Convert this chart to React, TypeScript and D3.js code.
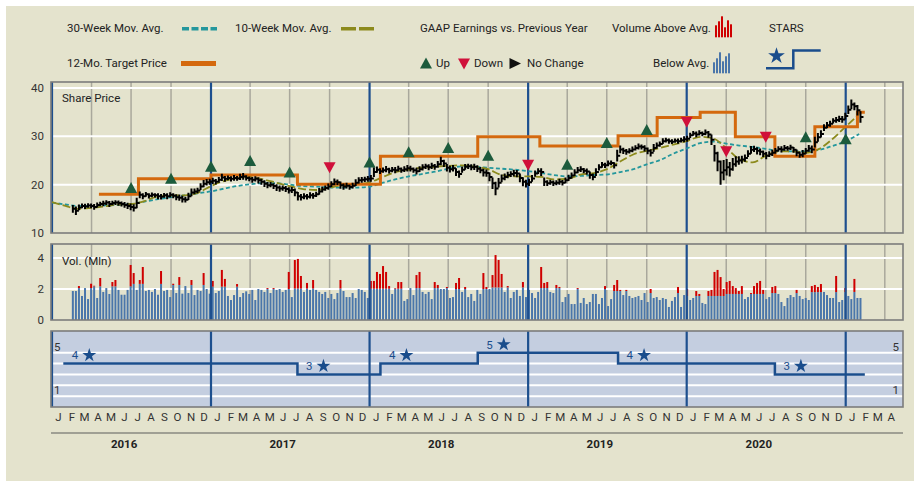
import React from "react";
import * as d3 from "d3";

// ---------- data ----------

// weekly price bars, first week ending 2016-02-18
const firstWeek = new Date(2016, 1, 18);

const close2016 = [15.0, 14.6, 15.3, 15.6, 15.5, 15.7, 15.6, 15.4, 15.8, 16.0, 16.1, 16.3, 16.0, 16.2, 16.3, 16.2, 16.0, 15.8, 15.6, 15.4, 15.2, 16.2, 17.9, 17.6, 18.0, 17.7, 17.9, 17.8, 17.6, 17.5, 17.8, 17.6, 17.9, 17.7, 17.4, 17.3, 17.0, 16.9, 17.6, 18.4, 18.6, 18.8, 19.6, 20.2, 20.5, 20.6];
const close2017 = [20.8, 20.6, 21.0, 21.5, 21.2, 21.4, 21.2, 21.4, 21.3, 21.6, 21.7, 21.4, 21.2, 21.0, 21.2, 20.9, 20.6, 20.2, 19.9, 20.0, 19.7, 19.4, 19.2, 19.3, 19.1, 18.8, 18.9, 18.4, 17.6, 17.4, 17.6, 17.5, 17.8, 17.7, 18.0, 18.6, 19.0, 19.3, 19.6, 20.1, 20.6, 20.5, 19.9, 19.6, 19.8, 19.5, 19.8, 20.4, 20.9, 21.0, 21.1, 21.2];
const close2018 = [21.3, 22.6, 23.1, 22.8, 23.0, 23.2, 22.9, 23.1, 23.0, 23.3, 23.0, 23.2, 23.4, 23.3, 23.0, 22.8, 23.2, 23.6, 23.8, 23.6, 23.9, 23.7, 24.2, 24.9, 24.4, 23.5, 23.2, 23.4, 22.6, 22.2, 23.1, 23.7, 23.8, 23.6, 23.7, 23.3, 23.0, 22.5, 22.4, 21.6, 20.3, 19.2, 20.4, 21.3, 21.6, 22.0, 22.2, 22.4, 22.3, 21.4, 20.6, 20.2];
const close2019 = [20.5, 21.3, 22.3, 22.8, 22.6, 20.6, 20.3, 20.5, 20.3, 20.4, 20.6, 20.4, 20.9, 21.4, 21.9, 22.5, 23.0, 23.2, 22.9, 22.7, 22.0, 21.6, 22.6, 23.6, 24.1, 24.0, 24.4, 24.5, 24.0, 26.0, 27.3, 27.0, 26.8, 27.0, 27.3, 27.6, 27.9, 27.8, 27.5, 27.0, 26.6, 27.6, 28.1, 28.4, 29.0, 29.2, 29.0, 28.9, 29.1, 29.0, 29.2, 29.4];
const close2020 = [29.5, 30.2, 30.6, 30.4, 30.7, 30.5, 30.8, 30.4, 29.3, 26.5, 24.8, 22.5, 23.0, 23.6, 23.2, 24.2, 24.8, 25.0, 25.2, 25.5, 26.4, 27.2, 27.4, 27.0, 26.8, 26.4, 26.0, 26.3, 26.6, 27.0, 27.4, 27.3, 27.6, 27.5, 27.7, 27.2, 26.6, 26.2, 26.4, 27.0, 27.5, 27.3, 28.8, 29.8, 30.5, 31.8, 32.3, 32.6, 33.2, 33.4, 33.6, 33.5];
const close2021 = [34.2, 35.5, 36.6, 36.2, 35.4, 34.0];

// weekly high-low span
const range2016 = [1.6, 1.8, 1.2, 1.0, 1.1, 0.9, 1.0, 1.2, 1.0, 0.9, 1.1, 1.0, 1.2, 0.9, 1.0, 1.1, 1.0, 1.2, 1.3, 1.4, 1.5, 2.2, 1.4, 1.2, 1.0, 1.1, 1.0, 0.9, 1.2, 1.1, 1.0, 1.2, 1.1, 1.0, 1.2, 1.3, 1.4, 1.2, 1.5, 1.6, 1.2, 1.1, 1.4, 1.5, 1.3, 1.2];
const range2017 = [1.3, 1.1, 1.2, 1.5, 1.2, 1.0, 1.1, 1.2, 1.0, 1.3, 1.4, 1.1, 1.0, 1.2, 1.1, 1.3, 1.2, 1.4, 1.3, 1.1, 1.2, 1.4, 1.3, 1.1, 1.2, 1.3, 1.2, 1.6, 1.8, 1.3, 1.2, 1.1, 1.3, 1.2, 1.1, 1.4, 1.2, 1.1, 1.3, 1.2, 1.4, 1.1, 1.5, 1.3, 1.2, 1.1, 1.2, 1.4, 1.3, 1.2, 1.1, 1.2];
const range2018 = [1.4, 2.0, 1.3, 1.2, 1.1, 1.3, 1.2, 1.1, 1.3, 1.2, 1.1, 1.2, 1.3, 1.2, 1.1, 1.4, 1.2, 1.3, 1.1, 1.2, 1.3, 1.2, 1.4, 1.8, 1.5, 1.6, 1.4, 1.3, 1.6, 1.5, 1.3, 1.2, 1.1, 1.2, 1.3, 1.4, 1.3, 1.6, 1.5, 1.8, 2.4, 2.8, 2.0, 1.6, 1.4, 1.3, 1.2, 1.4, 1.5, 1.8, 1.9, 1.6];
const range2019 = [1.5, 1.4, 1.3, 1.2, 1.6, 1.8, 1.2, 1.0, 1.1, 1.0, 1.2, 1.1, 1.2, 1.3, 1.2, 1.4, 1.3, 1.2, 1.1, 1.3, 1.5, 1.4, 1.6, 1.3, 1.2, 1.1, 1.2, 1.0, 1.3, 2.4, 1.6, 1.3, 1.2, 1.1, 1.2, 1.1, 1.2, 1.0, 1.3, 1.4, 1.5, 1.6, 1.2, 1.1, 1.2, 1.0, 1.1, 1.0, 0.9, 1.1, 1.0, 1.2];
const range2020 = [1.2, 1.1, 1.0, 1.2, 1.1, 1.0, 1.2, 1.4, 2.2, 3.4, 4.0, 5.0, 4.2, 3.4, 3.0, 2.6, 2.2, 1.8, 1.6, 1.5, 1.4, 1.6, 1.3, 1.5, 1.4, 1.3, 1.5, 1.2, 1.3, 1.2, 1.1, 1.3, 1.2, 1.0, 1.1, 1.2, 1.4, 1.3, 1.5, 1.2, 1.4, 1.6, 2.2, 1.8, 1.5, 1.4, 1.3, 1.2, 1.1, 1.2, 1.3, 1.4];
const range2021 = [1.4, 1.8, 2.0, 1.6, 2.2, 2.4];

// weekly volume, millions
const vol2016 = [1.87, 1.87, 2.19, 1.55, 2.06, 1.35, 2.34, 2.21, 1.42, 2.71, 1.81, 2.06, 1.68, 2.45, 2.58, 1.94, 1.63, 1.63, 1.94, 3.55, 3.03, 1.94, 2.58, 3.42, 1.87, 1.94, 1.81, 2.0, 1.63, 3.16, 1.87, 1.94, 1.48, 2.34, 1.74, 2.77, 1.7, 2.19, 1.74, 2.58, 1.61, 1.94, 1.87, 3.03, 2.0, 1.7];
const vol2017 = [2.52, 1.74, 1.87, 3.23, 2.65, 1.55, 1.29, 1.61, 2.32, 1.48, 1.74, 1.85, 1.68, 1.94, 1.29, 2.0, 1.94, 1.81, 2.06, 1.74, 2.06, 1.94, 2.0, 1.81, 1.94, 3.1, 1.48, 3.87, 3.94, 2.84, 1.81, 2.39, 1.94, 2.58, 1.94, 1.81, 1.68, 1.81, 1.42, 1.68, 1.35, 1.74, 2.58, 1.87, 1.48, 1.48, 1.74, 1.42, 2.0, 1.94, 1.81, 1.42];
const vol2018 = [2.52, 2.52, 3.1, 2.97, 3.48, 3.1, 2.19, 1.68, 2.06, 2.45, 2.45, 1.23, 1.35, 2.06, 1.61, 2.9, 3.1, 1.81, 1.68, 1.81, 1.35, 2.45, 2.26, 2.0, 2.0, 2.13, 1.42, 1.48, 2.39, 2.71, 1.81, 2.13, 1.48, 1.68, 1.23, 1.94, 1.68, 3.03, 2.13, 2.0, 2.9, 4.19, 3.87, 2.97, 1.81, 2.19, 1.42, 1.81, 1.94, 1.55, 2.45, 1.48];
const vol2019 = [1.94, 1.74, 1.42, 1.81, 3.42, 2.39, 2.45, 1.81, 1.74, 2.26, 2.13, 1.16, 1.48, 1.68, 1.03, 1.03, 2.06, 1.1, 1.42, 1.03, 1.16, 1.68, 1.68, 1.03, 1.42, 2.19, 0.9, 1.35, 2.26, 2.58, 1.94, 1.61, 1.94, 1.55, 1.42, 1.48, 1.55, 1.29, 1.74, 1.16, 2.0, 1.42, 1.48, 1.29, 1.42, 1.35, 0.84, 1.23, 1.48, 2.13, 0.84, 1.61];
const vol2020 = [2.0, 1.29, 1.42, 1.87, 1.68, 1.1, 1.03, 1.87, 1.94, 3.1, 3.23, 2.77, 2.0, 2.45, 2.52, 2.19, 2.06, 1.87, 2.19, 1.35, 1.48, 1.74, 2.19, 2.39, 2.52, 1.94, 1.35, 1.48, 2.13, 2.19, 1.68, 1.16, 0.9, 1.42, 1.61, 1.48, 1.94, 1.55, 1.35, 1.42, 1.29, 2.19, 2.26, 2.13, 2.32, 1.81, 1.61, 1.42, 1.42, 2.84, 1.16, 1.29];
const vol2021 = [2.06, 1.55, 1.35, 2.65, 1.42, 1.42];

// average volume by quarter, 2016 Q1 .. 2021 Q1
const volAvgByQuarter = [2.06, 2.17, 2.33, 2.26, 2.15, 2.0, 2.03, 2.03, 2.02, 2.06, 2.0, 2.1, 2.06, 2.0, 1.87, 1.74, 1.55, 1.68, 1.74, 1.8, 1.81];

// moving averages, month starts Jan 2016 .. Feb 2021
const ma30 = [16.3, 15.9, 15.6, 15.6, 15.7, 15.8, 16.0, 16.5, 17.0, 17.4, 17.8, 18.2, 18.6, 19.2, 19.7, 20.1, 20.3, 20.3, 20.0, 19.7, 19.6, 19.4, 19.4, 19.4, 19.6, 20.4, 21.1, 21.7, 22.2, 22.7, 23.3, 23.8, 23.7, 23.5, 23.3, 23.1, 22.8, 22.4, 22.0, 21.7, 21.8, 22.0, 22.1, 22.6, 23.2, 24.2, 25.1, 26.4, 27.5, 28.6, 28.9, 28.5, 28.1, 27.8, 27.4, 27.0, 26.9, 26.9, 27.2, 28.0, 29.0, 30.5];
const ma10 = [16.4, 15.6, 15.0, 15.2, 15.5, 15.9, 16.0, 16.6, 17.6, 17.8, 17.8, 18.3, 19.7, 20.8, 21.3, 21.6, 21.1, 20.4, 19.7, 19.1, 18.9, 19.4, 19.9, 20.1, 20.5, 21.6, 22.6, 23.1, 23.5, 23.7, 23.9, 24.0, 23.7, 23.2, 22.0, 21.7, 21.7, 21.6, 21.1, 21.2, 22.1, 22.4, 23.2, 24.8, 26.3, 27.0, 27.6, 28.3, 29.0, 29.9, 29.6, 27.6, 25.3, 24.6, 26.0, 26.9, 26.9, 26.6, 27.4, 29.4, 32.0, 34.6];

// 12-month target price steps
const targetDates = ["2016-04-18", "2016-07-18", "2017-01-01", "2017-07-19", "2018-01-26", "2018-09-07", "2019-01-28", "2019-07-27", "2019-10-25", "2020-02-01", "2020-04-22", "2020-07-22", "2020-10-22", "2021-01-28"];
const targetValues = [18.0, 21.2, 22.0, 20.1, 25.9, 29.9, 28.0, 30.1, 33.9, 35.0, 29.9, 25.9, 32.0, 35.0];
const seriesEnd = "2021-02-14";

// GAAP earnings vs previous year
const earnDates = ["2016-07-01", "2016-10-01", "2017-01-01", "2017-04-01", "2017-07-01", "2017-10-01", "2018-01-01", "2018-04-01", "2018-07-01", "2018-10-01", "2019-01-01", "2019-04-01", "2019-07-01", "2019-10-01", "2020-01-01", "2020-04-01", "2020-07-01", "2020-10-01", "2021-01-01"];
const earnDir = ["up", "up", "up", "up", "up", "down", "up", "up", "up", "up", "down", "up", "up", "up", "down", "down", "down", "up", "up"];
const earnLevel = [19.3, 21.2, 23.7, 24.9, 22.5, 23.6, 24.6, 26.7, 27.6, 26.0, 24.1, 24.1, 28.6, 31.3, 33.0, 26.9, 29.9, 29.8, 29.4];

// STARS rating steps
const starDates = ["2016-01-27", "2017-07-19", "2018-01-26", "2018-09-07", "2019-07-27", "2020-07-22"];
const starValues = [4, 3, 4, 5, 4, 3];

const monthLetters = ["J", "F", "M", "A", "M", "J", "J", "A", "S", "O", "N", "D"];
const years = [2016, 2017, 2018, 2019, 2020];
const priceTicks = [10, 20, 30, 40];
const volTicks = [0, 2, 4];

// ---------- layout ----------
const FONT = "Roboto, 'DejaVu Sans', sans-serif";
const TXT = "#222";
const BG = "#e4e3cd";
const GRID = "#a9a89c";
const YEAR = "#1d4f8e";
const TEAL = "#24979c";
const OLIVE = "#8c8a1c";
const ORANGE = "#d4690e";
const VBLUE = "#4a76aa";
const VRED = "#cf0000";
const UPC = "#1c5b3c";
const DNC = "#d0103a";
const SBLUE = "#1a4d8c";

const L = 51, R = 903;
const price = { top: 82, bottom: 233 };
const volP = { top: 244, bottom: 320 };
const starP = { top: 331, bottom: 407 };

const parse = d3.timeParse("%Y-%m-%d");

export default function App() {
  const x = d3.scaleTime().domain([new Date(2016, 0, 1), new Date(2021, 0, 1)]).range([52, 845.7]);
  const yP = d3.scaleLinear().domain([10, 40]).range([price.bottom, 88]);
  const yV = d3.scaleLinear().domain([0, 4]).range([volP.bottom, 258]);
  const yS = d3.scaleLinear().domain([0, 7]).range([starP.bottom, starP.top]);

  const closes = [...close2016, ...close2017, ...close2018, ...close2019, ...close2020, ...close2021];
  const spans = [...range2016, ...range2017, ...range2018, ...range2019, ...range2020, ...range2021];
  const volumes = [...vol2016, ...vol2017, ...vol2018, ...vol2019, ...vol2020, ...vol2021];
  const weekDate = (i: number) => d3.timeDay.offset(firstWeek, i * 7);

  const quarters = d3.timeMonth.every(3)!.range(new Date(2016, 0, 1), new Date(2021, 4, 1)).filter((d) => d.getMonth() !== 0);
  const yearStarts = d3.timeYear.range(new Date(2016, 0, 1), new Date(2021, 1, 1));
  const months = d3.timeMonth.range(new Date(2016, 0, 1), new Date(2021, 4, 1));

  const maLine = d3
    .line<number>()
    .x((_, i) => x(new Date(2016, i, 1)))
    .y((d) => yP(d))
    .curve(d3.curveMonotoneX);

  const stepPath = (dates: string[], vals: number[], ys: (v: number) => number) => {
    let p = "";
    dates.forEach((d, i) => {
      const x0 = x(parse(d)!);
      const x1 = x(parse(i < dates.length - 1 ? dates[i + 1] : seriesEnd)!);
      p += (i === 0 ? `M${x0},${ys(vals[i])}` : `V${ys(vals[i])}`) + `H${x1}`;
    });
    return p;
  };

  // price bars
  let barPath = "";
  closes.forEach((c, i) => {
    const px = x(weekDate(i));
    barPath += `M${px},${yP(c + spans[i] / 2)}V${yP(c - spans[i] / 2)}M${px},${yP(c)}H${px + 3}`;
  });

  const tri = (dir: string, cx: number, cy: number) =>
    dir === "up"
      ? `M${cx - 6},${cy + 5}L${cx + 6},${cy + 5}L${cx},${cy - 6}Z`
      : `M${cx - 6},${cy - 5}L${cx + 6},${cy - 5}L${cx},${cy + 6}Z`;

  const star = (size: number) => d3.symbol(d3.symbolStar, size)()!;

  const panelGrid = (p: { top: number; bottom: number }, withQuarters: boolean) => (
    <g>
      <rect x={L} y={p.top} width={R - L} height={p.bottom - p.top} fill={withQuarters ? BG : "#c4cee0"} />
      {withQuarters &&
        quarters.map((d, i) => (
          <line key={"q" + i} x1={x(d)} x2={x(d)} y1={p.top} y2={p.bottom} stroke={GRID} strokeWidth={1.5} />
        ))}
    </g>
  );

  const yearLines = (p: { top: number; bottom: number }) =>
    yearStarts.map((d, i) => (
      <line key={"y" + i} x1={x(d)} x2={x(d)} y1={p.top} y2={p.bottom} stroke={YEAR} strokeWidth={2.2} />
    ));

  const border = (p: { top: number; bottom: number }) => (
    <rect x={L} y={p.top} width={R - L} height={p.bottom - p.top} fill="none" stroke="#7c7c7c" strokeWidth={1.6} />
  );

  const legendRed = [12, 16, 21, 10, 17, 13];
  const legendBlue = [11, 15, 21, 12, 17, 20];

  return (
    <svg width={916} height={481} style={{ position: "absolute", left: 0, top: 0 }} fontFamily={FONT} fontSize={11.5}>
      <rect x={6} y={6} width={908} height={475} fill={BG} />

      {/* legend */}
      <g fill={TXT}>
        <text x={67} y={32}>30-Week Mov. Avg.</text>
        <line x1={182} x2={217} y1={28.7} y2={28.7} stroke={TEAL} strokeWidth={3.5} strokeDasharray="7,2.5" />
        <text x={235} y={32}>10-Week Mov. Avg.</text>
        <line x1={341} x2={376} y1={28.7} y2={28.7} stroke={OLIVE} strokeWidth={3.5} strokeDasharray="15,3" />
        <text x={420} y={32}>GAAP Earnings vs. Previous Year</text>
        <text x={612} y={32}>Volume Above Avg.</text>
        {legendRed.map((h, i) => (
          <rect key={"lr" + i} x={715 + i * 3} y={37.3 - h} width={2} height={h} fill={VRED} />
        ))}
        <text x={769} y={32}>STARS</text>

        <text x={67} y={67}>12-Mo. Target Price</text>
        <line x1={181} x2={216} y1={63.5} y2={63.5} stroke={ORANGE} strokeWidth={5} />
        <path d={tri("up", 426, 63.5)} fill={UPC} />
        <text x={436} y={67}>Up</text>
        <path d={tri("down", 464, 63.5)} fill={DNC} />
        <text x={474} y={67}>Down</text>
        <path d="M509.5,58L521,63.5L509.5,69Z" fill="#111" />
        <text x={527} y={67}>No Change</text>
        <text x={653} y={67}>Below Avg.</text>
        {legendBlue.map((h, i) => (
          <rect key={"lb" + i} x={713 + i * 3} y={73.3 - h} width={2} height={h} fill={VBLUE} />
        ))}
        <path d={star(87)} transform="translate(776.5,56)" fill={SBLUE} />
        <path d="M766,68.3H793.3V50.5H820.7" fill="none" stroke={SBLUE} strokeWidth={2.5} />
      </g>

      {/* price panel */}
      {panelGrid(price, true)}
      {[20, 30, 40].map((v) => (
        <line key={"pg" + v} x1={L} x2={R} y1={yP(v)} y2={yP(v)} stroke="#fff" strokeWidth={2} />
      ))}
      {yearLines(price)}
      <path d={maLine(ma30)!} fill="none" stroke={TEAL} strokeWidth={1.8} strokeDasharray="4,2.5" />
      <path d={maLine(ma10)!} fill="none" stroke={OLIVE} strokeWidth={1.8} strokeDasharray="8,3" />
      <path d={stepPath(targetDates, targetValues, yP)} fill="none" stroke={ORANGE} strokeWidth={3} />
      <path d={barPath} fill="none" stroke="#000" strokeWidth={2} />
      {earnDates.map((d, i) => (
        <path key={"e" + i} d={tri(earnDir[i], x(parse(d)!), yP(earnLevel[i]))} fill={earnDir[i] === "up" ? UPC : DNC} />
      ))}
      {border(price)}
      <text x={62} y={101.5} fill={TXT}>Share Price</text>
      {priceTicks.map((v) => (
        <text key={"pt" + v} x={44} y={yP(v) + 4} textAnchor="end" fill="#333">{v}</text>
      ))}

      {/* volume panel */}
      {panelGrid(volP, true)}
      {[2, 4].map((v) => (
        <line key={"vg" + v} x1={L} x2={R} y1={yV(v)} y2={yV(v)} stroke="#fff" strokeWidth={2} />
      ))}
      {volumes.map((v, i) => {
        const d = weekDate(i);
        const avg = volAvgByQuarter[(d.getFullYear() - 2016) * 4 + Math.floor(d.getMonth() / 3)];
        const px = x(d) - 1;
        const above = v > avg + 0.03;
        const blueTop = above ? avg : v;
        return (
          <g key={"v" + i}>
            <rect x={px} y={yV(blueTop)} width={2} height={yV(0) - yV(blueTop)} fill={VBLUE} />
            {above && <rect x={px} y={yV(v)} width={2} height={yV(avg) - yV(v)} fill={VRED} />}
          </g>
        );
      })}
      {yearLines(volP)}
      {border(volP)}
      <text x={62} y={265} fill={TXT}>Vol. (Mln)</text>
      {volTicks.map((v) => (
        <text key={"vt" + v} x={44} y={yV(v) + 4} textAnchor="end" fill="#333">{v}</text>
      ))}

      {/* STARS panel */}
      {panelGrid(starP, false)}
      {[1, 2, 3, 4, 5].map((v) => (
        <line key={"sg" + v} x1={L} x2={R} y1={yS(v)} y2={yS(v)} stroke="#fff" strokeWidth={2} />
      ))}
      {yearLines(starP)}
      <path d={stepPath(starDates, starValues, yS)} fill="none" stroke={SBLUE} strokeWidth={2.5} />
      {starDates.map((d, i) => {
        const sx = x(parse(d)!) + 26;
        const sy = yS(starValues[i]) - 8.3;
        return (
          <g key={"s" + i}>
            <path d={star(60)} transform={`translate(${sx},${sy})`} fill={SBLUE} />
            <text x={sx - 11} y={sy + 4.2} textAnchor="end" fill={SBLUE}>{starValues[i]}</text>
          </g>
        );
      })}
      {border(starP)}
      <text x={54} y={351} fill="#333">5</text>
      <text x={54} y={394} fill="#333">1</text>
      <text x={899} y={351} textAnchor="end" fill="#333">5</text>
      <text x={899} y={394} textAnchor="end" fill="#333">1</text>

      {/* time axis */}
      {months.map((m, i) => (
        <text key={"m" + i} x={x(d3.timeDay.offset(m, 15))} y={421} textAnchor="middle" fill="#333">
          {monthLetters[m.getMonth()]}
        </text>
      ))}
      <line x1={L} x2={R} y1={433} y2={433} stroke="#8a8a80" strokeWidth={1.5} />
      {years.map((yr) => (
        <text key={"yr" + yr} x={x(new Date(yr, 5, 15))} y={448} textAnchor="middle" fontWeight="bold" fill="#222">
          {yr}
        </text>
      ))}
    </svg>
  );
}
